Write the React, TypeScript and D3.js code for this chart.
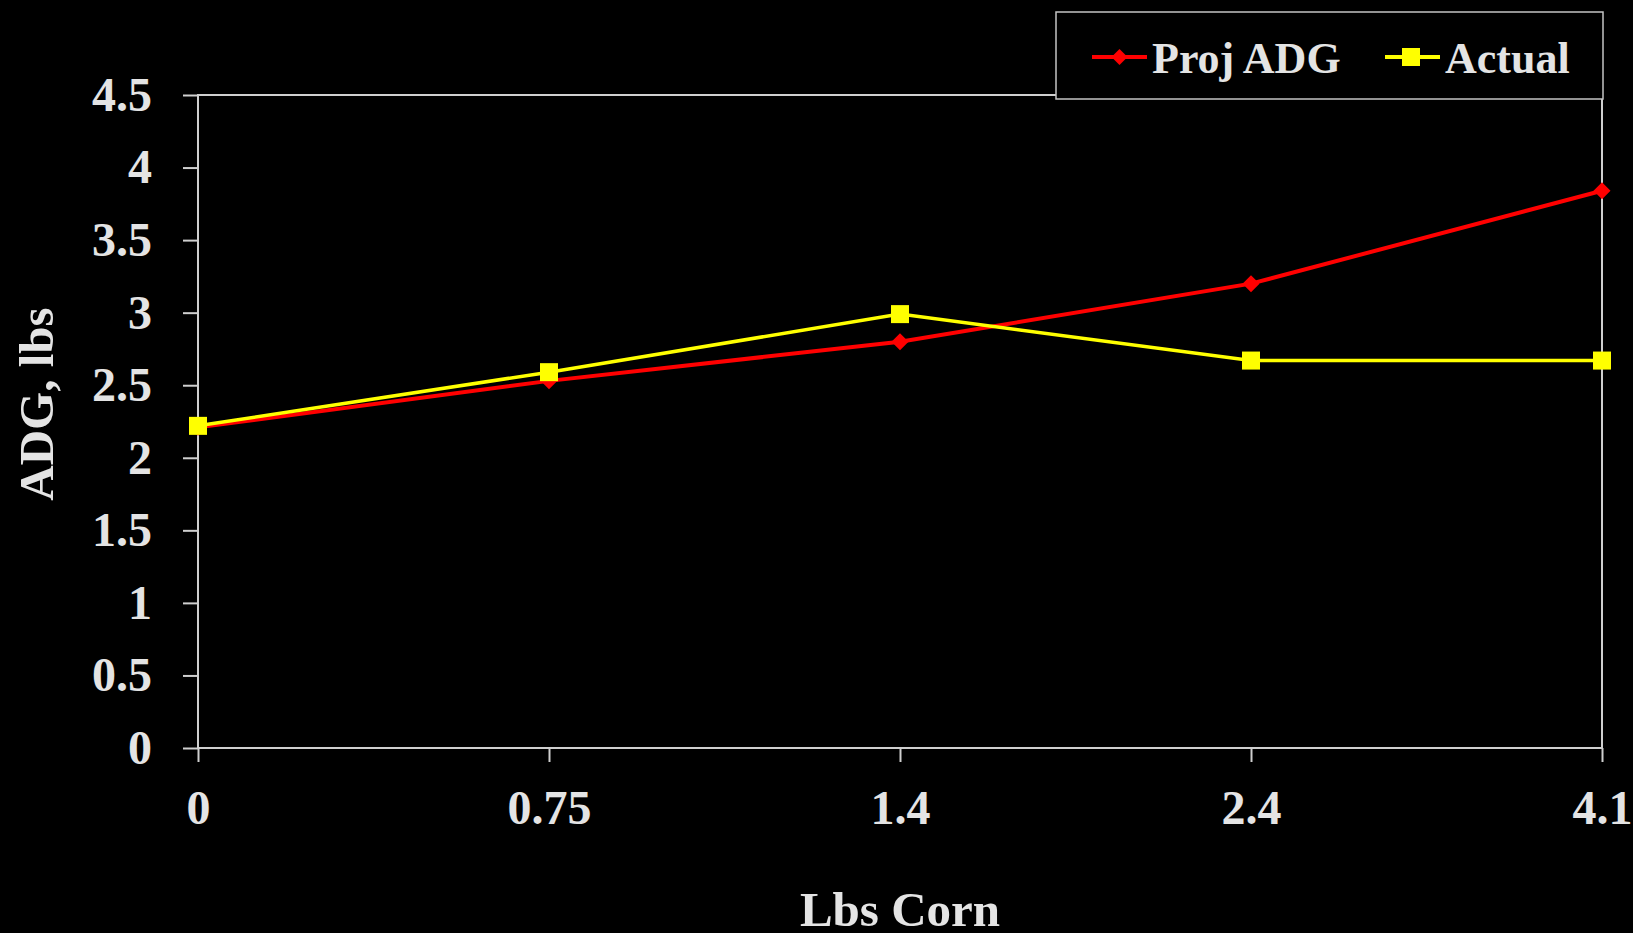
import React, { useEffect, useRef } from "react";
import * as d3 from "d3";

// data
const corn = ["0", "0.75", "1.4", "2.4", "4.1"];
const projADG = [2.21, 2.53, 2.8, 3.2, 3.84];
const actual = [2.22, 2.59, 2.99, 2.67, 2.67];
const yTicks = [0, 0.5, 1, 1.5, 2, 2.5, 3, 3.5, 4, 4.5];
const yTickLabels = ["0", "0.5", "1", "1.5", "2", "2.5", "3", "3.5", "4", "4.5"];
const seriesNames = ["Proj ADG", "Actual"];

const W = 1633;
const H = 933;
const FONT = "'Liberation Serif', 'Times New Roman', serif";
const TEXT = "#e4e4e4";
const RED = "#ff0000";
const YELLOW = "#ffff00";

export default function App() {
  const ref = useRef<SVGSVGElement>(null);

  useEffect(() => {
    const svg = d3.select(ref.current);
    svg.selectAll("*").remove();

    const margin = { top: 95, right: 31, bottom: 185, left: 198 };
    const innerWidth = W - margin.left - margin.right;
    const innerHeight = H - margin.top - margin.bottom;

    svg.append("rect").attr("width", W).attr("height", H).attr("fill", "#000");

    const x = d3.scalePoint<string>()
      .domain(corn)
      .range([margin.left, margin.left + innerWidth]);
    const y = d3.scaleLinear()
      .domain([0, 4.5])
      .range([margin.top + innerHeight, margin.top]);

    // plot frame
    svg.append("rect")
      .attr("x", margin.left)
      .attr("y", margin.top)
      .attr("width", innerWidth)
      .attr("height", innerHeight)
      .attr("fill", "none")
      .attr("stroke", "#cfcfcf")
      .attr("stroke-width", 2);

    const yAxis = svg.append("g")
      .attr("transform", `translate(${margin.left},0)`)
      .call(d3.axisLeft(y)
        .tickValues(yTicks)
        .tickFormat((d, i) => yTickLabels[i])
        .tickSize(15)
        .tickPadding(31));
    const xAxis = svg.append("g")
      .attr("transform", `translate(0,${margin.top + innerHeight})`)
      .call(d3.axisBottom(x).tickSize(14).tickPadding(28));

    [yAxis, xAxis].forEach(g => {
      g.select(".domain").remove();
      g.selectAll(".tick line").attr("stroke", "#cfcfcf").attr("stroke-width", 2);
      g.selectAll(".tick text")
        .attr("fill", TEXT)
        .attr("font-family", FONT)
        .attr("font-weight", "bold")
        .attr("font-size", 48);
    });

    const line = d3.line<number>()
      .x((d, i) => x(corn[i]) as number)
      .y(d => y(d));

    const diamond = (s: number) => `M0,${-s}L${s},0L0,${s}L${-s},0Z`;

    svg.append("path")
      .datum(projADG)
      .attr("d", line)
      .attr("fill", "none")
      .attr("stroke", RED)
      .attr("stroke-width", 4);
    svg.append("path")
      .datum(actual)
      .attr("d", line)
      .attr("fill", "none")
      .attr("stroke", YELLOW)
      .attr("stroke-width", 3.5);

    svg.append("g")
      .selectAll("path")
      .data(projADG)
      .join("path")
      .attr("transform", (d, i) => `translate(${x(corn[i])},${y(d)})`)
      .attr("d", diamond(8.5))
      .attr("fill", RED);
    svg.append("g")
      .selectAll("rect")
      .data(actual)
      .join("rect")
      .attr("x", (d, i) => (x(corn[i]) as number) - 9)
      .attr("y", d => y(d) - 9)
      .attr("width", 18)
      .attr("height", 18)
      .attr("fill", YELLOW);

    // axis titles
    svg.append("text")
      .attr("x", x("1.4") as number)
      .attr("y", 926)
      .attr("text-anchor", "middle")
      .attr("fill", TEXT)
      .attr("font-family", FONT)
      .attr("font-weight", "bold")
      .attr("font-size", 49)
      .text("Lbs Corn");
    svg.append("text")
      .attr("transform", "translate(53,404) rotate(-90)")
      .attr("text-anchor", "middle")
      .attr("fill", TEXT)
      .attr("font-family", FONT)
      .attr("font-weight", "bold")
      .attr("font-size", 49)
      .text("ADG, lbs");

    // legend
    const legend = svg.append("g").attr("transform", "translate(1056,12)");
    legend.append("rect")
      .attr("width", 547)
      .attr("height", 87)
      .attr("fill", "#000")
      .attr("stroke", "#c4c4c4")
      .attr("stroke-width", 1.5);
    const items = [
      { name: seriesNames[0], color: RED, lx: 36, tx: 96 },
      { name: seriesNames[1], color: YELLOW, lx: 329, tx: 389 },
    ];
    items.forEach((it, i) => {
      const g = legend.append("g");
      g.append("line")
        .attr("x1", it.lx)
        .attr("x2", it.lx + 55)
        .attr("y1", 45)
        .attr("y2", 45)
        .attr("stroke", it.color)
        .attr("stroke-width", 4);
      if (i === 0) {
        g.append("path")
          .attr("transform", `translate(${it.lx + 27.5},45)`)
          .attr("d", diamond(8))
          .attr("fill", it.color);
      } else {
        g.append("rect")
          .attr("x", it.lx + 17)
          .attr("y", 36)
          .attr("width", 18)
          .attr("height", 18)
          .attr("fill", it.color);
      }
      g.append("text")
        .attr("x", it.tx)
        .attr("y", 61)
        .attr("fill", TEXT)
        .attr("font-family", FONT)
        .attr("font-weight", "bold")
        .attr("font-size", 44)
        .text(it.name);
    });
  }, []);

  return (
    <svg
      ref={ref}
      width={W}
      height={H}
      style={{ position: "absolute", left: 0, top: 0, display: "block" }}
    />
  );
}
